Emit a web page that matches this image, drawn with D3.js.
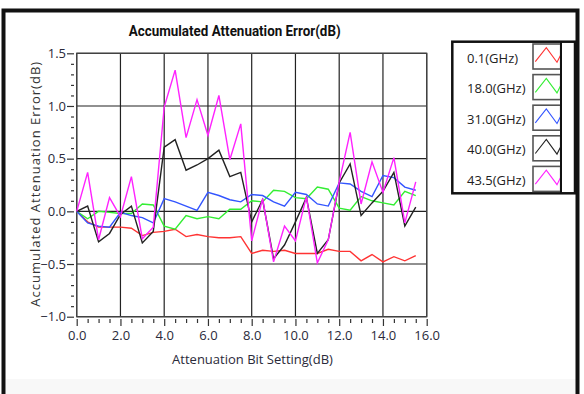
<!DOCTYPE html>
<html><head><meta charset="utf-8">
<script src="https://cdn.jsdelivr.net/npm/d3@7"></script>
<style>
html,body{margin:0;padding:0;background:#fff;}
svg{display:block;font-family:"Open Sans",sans-serif;}
</style></head>
<body><svg id="c" width="584" height="394"></svg>
<script>
const settings = [0,0.5,1,1.5,2,2.5,3,3.5,4,4.5,5,5.5,6,6.5,7,7.5,8,8.5,9,9.5,10,10.5,11,11.5,12,12.5,13,13.5,14,14.5,15,15.5];
const f01  = [0,-0.10,-0.15,-0.15,-0.15,-0.16,-0.23,-0.20,-0.19,-0.17,-0.24,-0.22,-0.24,-0.25,-0.25,-0.24,-0.40,-0.37,-0.38,-0.37,-0.40,-0.40,-0.40,-0.36,-0.38,-0.38,-0.47,-0.41,-0.48,-0.43,-0.47,-0.42];
const f180 = [0,-0.07,0.00,-0.01,-0.02,-0.02,0.07,0.06,-0.14,-0.17,-0.04,-0.07,-0.05,-0.07,0.02,0.02,0.10,0.09,0.20,0.19,0.13,0.12,0.23,0.21,0.03,0.01,0.14,0.10,0.08,0.06,0.19,0.15];
const f310 = [0,-0.11,-0.14,-0.15,-0.01,-0.04,-0.06,-0.11,0.12,0.09,0.05,0.01,0.18,0.15,0.11,0.09,0.16,0.15,0.09,0.05,0.18,0.16,0.07,0.05,0.27,0.26,0.19,0.14,0.34,0.32,0.23,0.20];
const f400 = [0,0.05,-0.29,-0.21,-0.03,0.05,-0.30,-0.19,0.61,0.68,0.39,0.44,0.50,0.58,0.33,0.37,-0.10,0.11,-0.45,-0.32,-0.10,0.13,-0.40,-0.27,0.27,0.45,-0.04,0.08,0.19,0.37,-0.14,0.04];
const f435 = [0,0.37,-0.27,0.13,-0.05,0.33,-0.26,-0.15,0.99,1.34,0.70,1.06,0.72,1.10,0.49,0.83,-0.28,0.12,-0.48,-0.14,-0.28,0.14,-0.49,-0.27,0.28,0.75,0.07,0.47,0.18,0.51,-0.11,0.28];
const seriesNames = ["0.1(GHz)","18.0(GHz)","31.0(GHz)","40.0(GHz)","43.5(GHz)"];
const seriesColors = ["#ff3333","#33ee33","#3355ff","#222222","#ff22ff"];
const seriesValues = [f01,f180,f310,f400,f435];
const yMajor = [-1.0,-0.5,0.0,0.5,1.0,1.5];
const xMajor = [0,2,4,6,8,10,12,14,16];
const titleText = "Accumulated Attenuation Error(dB)";
const xLabel = "Attenuation Bit Setting(dB)";
const yLabel = "Accumulated Attenuation Error(dB)";

const svg = d3.select("#c");
// frame
svg.append("rect").attr("x",0).attr("y",0).attr("width",584).attr("height",394).attr("fill","#fff");
svg.append("rect").attr("x",6).attr("y",379).attr("width",570).attr("height",15).attr("fill","#f8f8f8");
svg.append("path").attr("d","M3.5,394 V10.5 H577.5 V394").attr("fill","none").attr("stroke","#111").attr("stroke-width",4);

const L=76.7,R=426.7,T=53.3,B=316.7;
const x = d3.scaleLinear().domain([0,16]).range([L,R]);
const y = d3.scaleLinear().domain([-1,1.5]).range([B,T]);

// grid
const g = svg.append("g");
g.selectAll("line.v").data(xMajor).join("line")
 .attr("x1",d=>x(d)).attr("x2",d=>x(d)).attr("y1",T).attr("y2",B)
 .attr("stroke","#222").attr("stroke-width",1.2);
g.selectAll("line.h").data(yMajor).join("line")
 .attr("x1",L).attr("x2",R).attr("y1",d=>y(d)).attr("y2",d=>y(d))
 .attr("stroke","#222").attr("stroke-width",1.2);
g.append("rect").attr("x",L).attr("y",T).attr("width",R-L).attr("height",B-T)
 .attr("fill","none").attr("stroke","#444").attr("stroke-width",1.3);

// axes
const yMinor = d3.range(-10,16).map(v=>v/10).filter(v=>!yMajor.some(m=>Math.abs(m-v)<1e-6));
const xMinor = d3.range(0,33).map(v=>v/2).filter(v=>v%2!==0);
svg.append("g").attr("transform","translate(74,0)")
 .call(d3.axisLeft(y).tickValues(yMajor).tickSize(7).tickPadding(1).tickFormat(d3.format(".1f")));
svg.append("g").attr("transform","translate(74,0)")
 .call(d3.axisLeft(y).tickValues(yMinor).tickSize(3).tickFormat(""));
svg.append("g").attr("transform","translate(0,319)")
 .call(d3.axisBottom(x).tickValues(xMajor).tickSize(7).tickPadding(5).tickFormat(d3.format(".1f")));
svg.append("g").attr("transform","translate(0,319)")
 .call(d3.axisBottom(x).tickValues(xMinor).tickSize(4).tickFormat(""));
svg.selectAll(".domain").remove();
svg.selectAll(".tick line").attr("stroke","#333").attr("stroke-width",1.2);
svg.selectAll(".tick text").attr("fill","#2a2a3a").style("font-size","13px").style("font-family","'Open Sans',sans-serif");

// lines
const line = d3.line().x((d,i)=>x(settings[i])).y(d=>y(d));
const pg = svg.append("g");
seriesValues.forEach((vals,k)=>{
  pg.append("path").attr("d",line(vals)).attr("fill","none")
   .attr("stroke",seriesColors[k]).attr("stroke-width",1.4).attr("stroke-linejoin","miter");
});

// title & labels
svg.append("text").attr("x",234.7).attr("y",36).attr("text-anchor","middle")
 .style("font-size","14px").style("font-weight","bold").style("font-family","Roboto,sans-serif")
 .attr("fill","#111").attr("textLength",212).attr("lengthAdjust","spacingAndGlyphs").text(titleText);
svg.append("text").attr("x",252.5).attr("y",364).attr("text-anchor","middle")
 .style("font-size","13px").attr("fill","#2a2a3a").text(xLabel);
svg.append("text").attr("transform","translate(39.5,184.3) rotate(-90)").attr("text-anchor","middle")
 .style("font-size","13px").attr("fill","#333").attr("textLength",245).attr("lengthAdjust","spacing").text(yLabel);

// legend
const lg = svg.append("g");
lg.append("rect").attr("x",452.3).attr("y",41.7).attr("width",122.7).attr("height",151.6)
 .attr("fill","#fff").attr("stroke","#111").attr("stroke-width",2.5);
seriesNames.forEach((n,k)=>{
  const sy = 44 + k*30.6;
  lg.append("rect").attr("x",533).attr("y",sy).attr("width",27.7).attr("height",25)
   .attr("fill","#fff").attr("stroke","#555").attr("stroke-width",1.6);
  lg.append("path").attr("d",`M${533+2.3},${sy+17.7} L${533+13.3},${sy+3.7} L${533+24},${sy+18.3} L${533+27.3},${sy+11.7}`)
   .attr("fill","none").attr("stroke",seriesColors[k]).attr("stroke-width",1.1);
  lg.append("text").attr("x",467).attr("y",sy+18.5).style("font-size","13px").attr("fill","#222").text(n);
});
lg.append("line").attr("x1",561).attr("x2",561).attr("y1",41.7).attr("y2",193.3).attr("stroke","#111").attr("stroke-width",2);
</script></body></html>
